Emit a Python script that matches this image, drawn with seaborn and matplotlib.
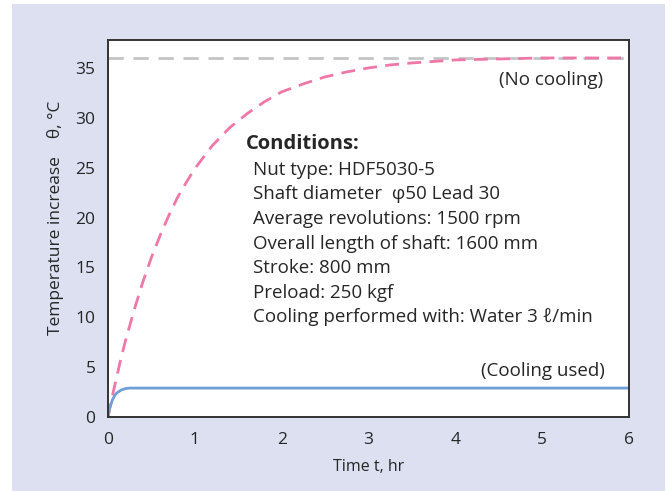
import numpy as np
import pandas as pd
import matplotlib.pyplot as plt
import matplotlib.patches as mpatches
import seaborn as sns

# values
t_no_cool = [0, 0.05, 0.1, 0.15, 0.2, 0.3, 0.4, 0.5, 0.6, 0.7, 0.8, 0.9, 1.0, 1.2, 1.4,
             1.6, 1.8, 2.0, 2.25, 2.5, 2.75, 3.0, 3.25, 3.5, 4.0, 4.5, 5.0, 6.0]
temp_no_cool = [0, 2.1, 4.0, 5.9, 7.6, 10.7, 13.5, 16.0, 18.2, 20.2, 22.0, 23.5, 24.9, 27.2, 29.0,
                30.4, 31.6, 32.6, 33.4, 34.1, 34.6, 35.0, 35.3, 35.5, 35.8, 35.9, 36.0, 36.0]

t_cool = [0, 0.02, 0.05, 0.08, 0.1, 0.15, 0.2, 0.25, 0.3, 1.0, 2.0, 4.0, 6.0]
temp_cool = [0, 0.9, 1.7, 2.2, 2.4, 2.7, 2.85, 2.9, 2.9, 2.9, 2.9, 2.9, 2.9]

t_limit = [0, 6]
temp_limit = [36, 36]

conditions = [
    "Nut type: HDF5030-5",
    "Shaft diameter  φ50 Lead 30",
    "Average revolutions: 1500 rpm",
    "Overall length of shaft: 1600 mm",
    "Stroke: 800 mm",
    "Preload: 250 kgf",
    "Cooling performed with: Water 3 ℓ/min",
]

sns.set_style("white")
plt.rcParams["font.family"] = ["Open Sans", "DejaVu Sans"]

fig = plt.figure(figsize=(6.72, 4.91), dpi=100)
fig.patch.set_facecolor("white")
fig.patches.append(mpatches.Rectangle((12 / 672, -0.01), (665 - 12) / 672, 1.01 - 4 / 491,
                                      transform=fig.transFigure, facecolor="#dce0f0",
                                      edgecolor="none", zorder=-10))

ax = fig.add_axes([108 / 672, 1 - 417 / 491, (629 - 108) / 672, (417 - 40) / 491])
ax.set_facecolor("white")

sns.lineplot(x=t_limit, y=temp_limit, ax=ax, color="#c4c4c4", lw=2, linestyle=(0, (5.5, 3.5)))
sns.lineplot(x=t_no_cool, y=temp_no_cool, ax=ax, color="#ef78a8", lw=2, linestyle=(0, (5, 3)))
sns.lineplot(x=t_cool, y=temp_cool, ax=ax, color="#6e9fd6", lw=2)

ax.set_xlim(0, 6)
ax.set_ylim(0, 37.8)
ax.set_xticks(range(0, 7))
ax.set_yticks(range(0, 36, 5))
ax.tick_params(length=0, labelsize=12.5, pad=9)
ax.tick_params(axis="x", pad=11)

for side in ["left", "bottom", "top", "right"]:
    ax.spines[side].set_color("#333333")
    ax.spines[side].set_linewidth(1.4)

ax.set_xlabel("Time t, hr", fontsize=11.5, labelpad=8)
ax.set_ylabel("Temperature increase    θ, °C", fontsize=12.5)
ax.yaxis.set_label_coords(-0.085, 0.528)

ax.text(5.70, 33.8, "(No cooling)", ha="right", va="center", fontsize=13.5)
ax.text(5.72, 4.6, "(Cooling used)", ha="right", va="center", fontsize=13.5)

ax.text(1.59, 27.4, "Conditions:", fontsize=14.5, fontweight="bold", va="center")
for i, line in enumerate(conditions):
    ax.text(1.67, 24.8 - i * 2.47, line, fontsize=13.5, va="center")

fig.savefig("out.png", dpi=100)
